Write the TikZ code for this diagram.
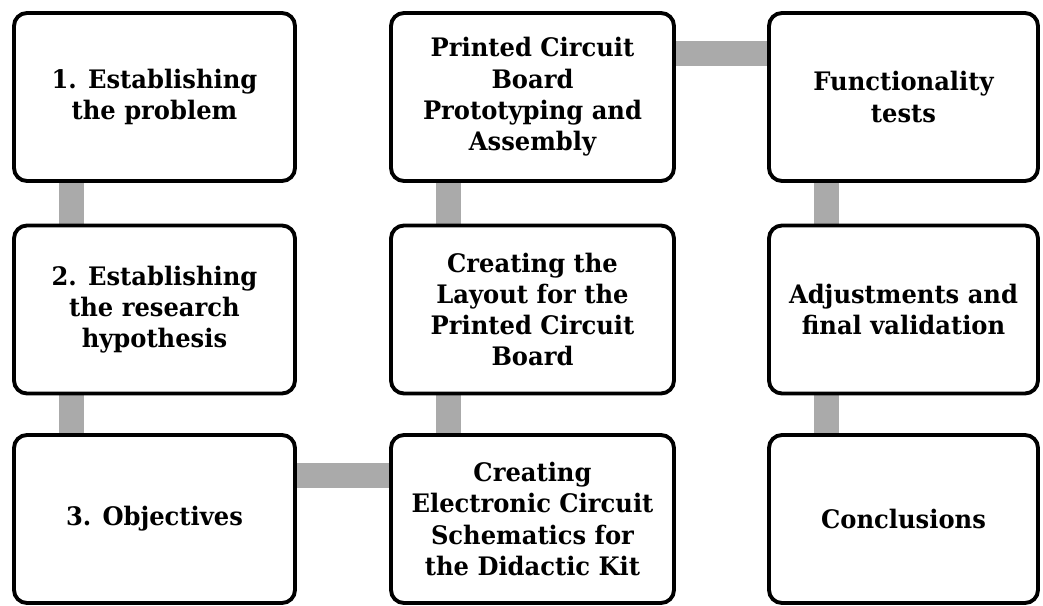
\documentclass[tikz,border=0pt]{standalone}
\usepackage{fontspec}
\setmainfont{DejaVu Serif}[FakeStretch=0.95]
\usetikzlibrary{backgrounds}
\definecolor{linkgray}{HTML}{AAAAAA}

\begin{document}
\begin{tikzpicture}[
    stage/.style={
        rectangle,
        draw,
        rounded corners=0.26cm,
        line width=2.2pt,
        fill=white,
        minimum height=3.36cm,
        align=center,
        inner sep=1pt,
        font=\bfseries\fontsize{14.5}{17.8}\selectfont
        },
    link/.style={
        draw=linkgray,
        line width=0.5cm,
        },
    ]

    \useasboundingbox (0,0) rectangle (20.86,12.12);

    \node [stage, minimum width=5.62cm] (est1) at (3.09,10.18) {1. Establishing\\the problem};
    \node [stage, minimum width=5.62cm] (est2) at (3.09,5.93) {2. Establishing\\the research\\hypothesis};
    \node [stage, minimum width=5.62cm] (obj) at (3.09,1.74) {3. Objectives};

    \node [stage, minimum width=5.66cm] (schem) at (10.65,1.74) {Creating\\Electronic Circuit\\Schematics for\\the Didactic Kit};
    \node [stage, minimum width=5.66cm] (layout) at (10.65,5.93) {Creating the\\Layout for the\\Printed Circuit\\Board};
    \node [stage, minimum width=5.66cm] (proto) at (10.65,10.18) {Printed Circuit\\Board\\Prototyping and\\Assembly};

    \node [stage, minimum width=5.38cm] (tests) at (18.07,10.18) {Functionality\\tests};
    \node [stage, minimum width=5.38cm] (adjust) at (18.07,5.93) {Adjustments and\\final validation};
    \node [stage, minimum width=5.38cm] (concl) at (18.07,1.74) {Conclusions};

    % gray links behind the boxes
    \begin{scope}[on background layer]
        \draw [link] ([xshift=1.18cm]est1.south west) -- ([xshift=1.18cm]est2.north west);
        \draw [link] ([xshift=1.18cm]est2.south west) -- ([xshift=1.18cm]obj.north west);
        \draw [link] ([yshift=-0.84cm]obj.north east) -- ([yshift=-0.84cm]schem.north west);
        \draw [link] ([xshift=1.18cm]schem.north west) -- ([xshift=1.18cm]layout.south west);
        \draw [link] ([xshift=1.18cm]layout.north west) -- ([xshift=1.18cm]proto.south west);
        \draw [link] ([yshift=-0.84cm]proto.north east) -- ([yshift=-0.84cm]tests.north west);
        \draw [link] ([xshift=1.18cm]tests.south west) -- ([xshift=1.18cm]adjust.north west);
        \draw [link] ([xshift=1.18cm]adjust.south west) -- ([xshift=1.18cm]concl.north west);
    \end{scope}

\end{tikzpicture}
\end{document}
